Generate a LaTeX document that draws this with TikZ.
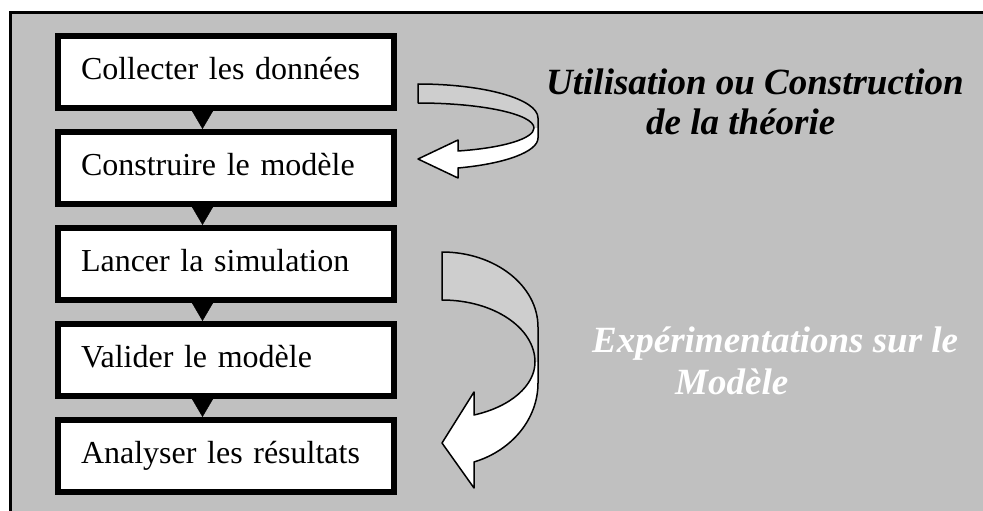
\documentclass[tikz,border=0pt]{standalone}
\usepackage{fontspec}
\setmainfont{Liberation Serif}
\usetikzlibrary{arrows.meta}
\definecolor{bggray}{RGB}{192,192,192}
\definecolor{bandgray}{RGB}{206,206,206}
\begin{document}
\begin{tikzpicture}[x=1pt,y=-1pt,
  stepbox/.style={draw=black,line width=6pt,fill=white,minimum width=336pt,minimum height=72pt,
    inner xsep=0pt,inner ysep=0pt,text width=290pt,align=left,text height=22pt,text depth=7pt,
    font=\fontsize{32}{38}\selectfont},
  conn/.style={line width=0.4pt,-{Triangle[width=21pt,length=18pt]}},
  band/.style={draw=black,line width=1.5pt,line join=round},
  note/.style={anchor=base west,inner sep=0pt,font=\fontsize{37}{40}\selectfont\bfseries\itshape}]
\useasboundingbox (0,0) rectangle (983,511);
\fill[bggray] (10.5,12.5) rectangle (983,511);
\draw[line width=3pt] (10.5,511) -- (10.5,12.5) -- (983,12.5);

\node[stepbox] (b1) at (226,72)  {Collecter les données};
\node[stepbox] (b2) at (226,168) {Construire le modèle};
\node[stepbox] (b3) at (226,264) {Lancer la simulation};
\node[stepbox] (b4) at (226,360) {Valider le modèle};
\node[stepbox] (b5) at (226,456) {Analyser les résultats};

\coordinate (ax) at (202.5,0);
\draw[conn] (b1.south -| ax) -- (b2.north -| ax);
\draw[conn] (b2.south -| ax) -- (b3.north -| ax);
\draw[conn] (b3.south -| ax) -- (b4.north -| ax);
\draw[conn] (b4.south -| ax) -- (b5.north -| ax);

% upper curved arrow
\fill[bandgray] (418,84) .. controls (484,84) and (538,99) .. (538,118)
  -- (538,128) -- (534,128) .. controls (534,114.2) and (482,103) .. (418,103) -- cycle;
\fill[white] (534,128) -- (538,128) -- (538,138)
  .. controls (538,151.5) and (505.8,163.7) .. (458,168)
  -- (458,178) -- (418,159) -- (458,140) -- (458,151)
  .. controls (503.6,147.9) and (534,138.5) .. (534,128) -- cycle;
\path[band] (418,84) .. controls (484,84) and (538,99) .. (538,118)
  -- (538,138) .. controls (538,151.5) and (505.8,163.7) .. (458,168)
  -- (458,178) -- (418,159) -- (458,140) -- (458,151)
  .. controls (503.6,147.9) and (534,138.5) .. (534,128)
  .. controls (534,114.2) and (482,103) .. (418,103) -- cycle;

% lower curved arrow
\fill[bandgray] (442,252) .. controls (495,252) and (538,285.6) .. (538,327)
  -- (538,362) -- (535,362) .. controls (535,327.8) and (493.4,300) .. (442,300) -- cycle;
\fill[white] (535,362) -- (538,362) -- (538,383)
  .. controls (538,418.5) and (512.3,450.4) .. (474,462)
  -- (474,488) -- (442,443) -- (474,392) -- (474,415)
  .. controls (510.6,406.8) and (535,385.6) .. (535,362) -- cycle;
\path[band] (442,252) .. controls (495,252) and (538,285.6) .. (538,327)
  -- (538,383) .. controls (538,418.5) and (512.3,450.4) .. (474,462)
  -- (474,488) -- (442,443) -- (474,392) -- (474,415)
  .. controls (510.6,406.8) and (535,385.6) .. (535,362)
  .. controls (535,327.8) and (493.4,300) .. (442,300) -- cycle;

\node[note] (t1) at (546,95)  {Utilisation ou Construction};
\node[note] (t2) at (646,134) {de la théorie};
\node[note,text=white] (t3) at (592,352) {Expérimentations sur le};
\node[note,text=white] (t4) at (675,394) {Modèle};
\end{tikzpicture}
\end{document}
